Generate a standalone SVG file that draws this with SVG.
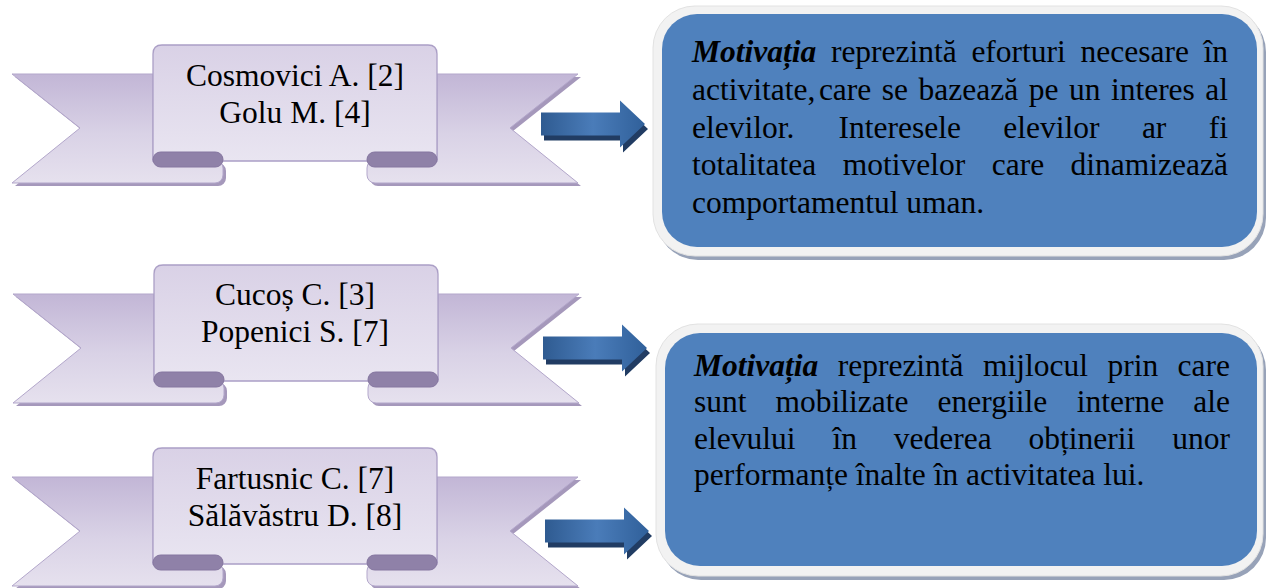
<svg xmlns="http://www.w3.org/2000/svg" xmlns:xlink="http://www.w3.org/1999/xlink" width="1266" height="588" viewBox="0 0 1266 588">
<style>
  .rt { font-family: "Liberation Serif", "Times New Roman", serif; font-size: 31.5px; fill: #000; }
  .bt { font-family: "Liberation Serif", "Times New Roman", serif; font-size: 31.5px; fill: #000; }
  .em { font-weight: bold; font-style: italic; }
  .tailsh { fill: #a598bb; }
  .tail { fill: url(#lavTail); stroke: #b3a7cb; stroke-width: 1; }
  .fold { fill: #8f81a8; stroke: #8576a0; stroke-width: 1; }
  .panel { fill: url(#lavPanel); stroke: #ab9fc6; stroke-width: 1.3; }
  .boxsh { fill: #97a2b8; }
  .boxout { fill: #f2f2f2; stroke: #e2e2e2; stroke-width: 1; }
  .boxin { fill: #4f81bd; }
  .arrsh { fill: #213c63; }
  .arr { fill: url(#arrGrad); }
</style>
<defs>
  <linearGradient id="lavTail" x1="0" y1="0" x2="0" y2="1">
    <stop offset="0" stop-color="#c2b6d6"/>
    <stop offset="0.55" stop-color="#d9d2e6"/>
    <stop offset="1" stop-color="#e6e1ee"/>
  </linearGradient>
  <linearGradient id="lavPanel" x1="0" y1="0" x2="0" y2="1">
    <stop offset="0" stop-color="#d9d1e6"/>
    <stop offset="1" stop-color="#e9e5f1"/>
  </linearGradient>
  <linearGradient id="arrGrad" x1="0" y1="0" x2="1" y2="0">
    <stop offset="0" stop-color="#2f5b91"/>
    <stop offset="0.5" stop-color="#4a7cb9"/>
    <stop offset="1" stop-color="#30609a"/>
  </linearGradient>
  <g id="ribbon">
    <path class="tailsh" d="M15,32 H156 V118 H218 A8,8 0 0 1 226,126 V133 A8,8 0 0 1 218,141 H15 L83,86 Z"/>
    <path class="tailsh" d="M581,32 H440 V118 H378 A8,8 0 0 0 370,126 V133 A8,8 0 0 0 378,141 H581 L513,86 Z"/>
    <path class="tail" d="M12,29 H153 V115 H215 A8,8 0 0 1 223,123 V130 A8,8 0 0 1 215,138 H12 L80,83 Z"/>
    <path class="tail" d="M578,29 H437 V115 H375 A8,8 0 0 0 367,123 V130 A8,8 0 0 0 375,138 H578 L510,83 Z"/>
    <path class="panel" d="M153,116 V9 Q153,0 162,0 H428 Q437,0 437,9 V116 Z"/>
    <rect class="fold" x="153" y="107" width="70" height="15" rx="7.5"/>
    <rect class="fold" x="367" y="107" width="70" height="15" rx="7.5"/>
  </g>
  <path id="arrow" d="M0,-11.5 H79 V-23.5 L104,0 L79,23.5 V11.5 H0 Z"/>
</defs>

<g id="connectors">
  <g transform="translate(541,124)">
    <use xlink:href="#arrow" href="#arrow" class="arrsh" transform="translate(3,5)"/>
    <use xlink:href="#arrow" href="#arrow" class="arr"/>
  </g>
  <g transform="translate(543,348)">
    <use xlink:href="#arrow" href="#arrow" class="arrsh" transform="translate(3,5)"/>
    <use xlink:href="#arrow" href="#arrow" class="arr"/>
  </g>
  <g transform="translate(545,531)">
    <use xlink:href="#arrow" href="#arrow" class="arrsh" transform="translate(3,5)"/>
    <use xlink:href="#arrow" href="#arrow" class="arr"/>
  </g>
</g>

<g id="ribbon1">
  <use xlink:href="#ribbon" href="#ribbon" transform="translate(0,45)"/>
  <text class="rt" x="295" y="86" text-anchor="middle">Cosmovici A. [2]</text>
  <text class="rt" x="295" y="123" text-anchor="middle">Golu M. [4]</text>
</g>

<g id="ribbon2">
  <use xlink:href="#ribbon" href="#ribbon" transform="translate(1,265)"/>
  <text class="rt" x="295" y="305" text-anchor="middle">Cucoș C. [3]</text>
  <text class="rt" x="295" y="342" text-anchor="middle">Popenici S. [7]</text>
</g>

<g id="ribbon3">
  <use xlink:href="#ribbon" href="#ribbon" transform="translate(0,448)"/>
  <text class="rt" x="295" y="489" text-anchor="middle">Fartusnic C. [7]</text>
  <text class="rt" x="295" y="526" text-anchor="middle">Sălăvăstru D. [8]</text>
</g>

<g id="box1">
  <rect class="boxsh" x="656" y="10" width="610" height="250" rx="42"/>
  <rect class="boxout" x="653" y="6" width="610" height="250" rx="42"/>
  <rect class="boxin" x="662" y="14" width="595" height="233" rx="35"/>
  <text class="bt" y="62"><tspan x="692" class="em">Motivația</tspan><tspan x="830.9">reprezintă</tspan><tspan x="971.4">eforturi</tspan><tspan x="1080.5">necesare</tspan><tspan x="1203.5">în</tspan></text>
  <text class="bt" y="99.8"><tspan x="692">activitate,</tspan><tspan x="818.9">care</tspan><tspan x="881.8">se</tspan><tspan x="918.5">bazează</tspan><tspan x="1028.7">pe</tspan><tspan x="1068.9">un</tspan><tspan x="1110.9">interes</tspan><tspan x="1205.3">al</tspan></text>
  <text class="bt" y="137.5"><tspan x="692">elevilor.</tspan><tspan x="838.5">Interesele</tspan><tspan x="1003.3">elevilor</tspan><tspan x="1141.9">ar</tspan><tspan x="1208.8">fi</tspan></text>
  <text class="bt" y="175.3"><tspan x="692">totalitatea</tspan><tspan x="842.7">motivelor</tspan><tspan x="991.7">care</tspan><tspan x="1070.6">dinamizează</tspan></text>
  <text class="bt" x="692" y="213">comportamentul uman.</text>
</g>

<g id="box2">
  <rect class="boxsh" x="659" y="328" width="607" height="252" rx="42"/>
  <rect class="boxout" x="656" y="324" width="607" height="252" rx="42"/>
  <rect class="boxin" x="665" y="333" width="592" height="233" rx="35"/>
  <text class="bt" y="376"><tspan x="694" class="em">Motivația</tspan><tspan x="837.7">reprezintă</tspan><tspan x="983">mijlocul</tspan><tspan x="1107.4">prin</tspan><tspan x="1177.6">care</tspan></text>
  <text class="bt" y="412.3"><tspan x="694">sunt</tspan><tspan x="775.5">mobilizate</tspan><tspan x="937.5">energiile</tspan><tspan x="1076.7">interne</tspan><tspan x="1193.3">ale</tspan></text>
  <text class="bt" y="448.6"><tspan x="694">elevului</tspan><tspan x="832.4">în</tspan><tspan x="893.8">vederea</tspan><tspan x="1028.6">obținerii</tspan><tspan x="1172.3">unor</tspan></text>
  <text class="bt" x="694" y="485">performanțe înalte în activitatea lui.</text>
</g>
</svg>
